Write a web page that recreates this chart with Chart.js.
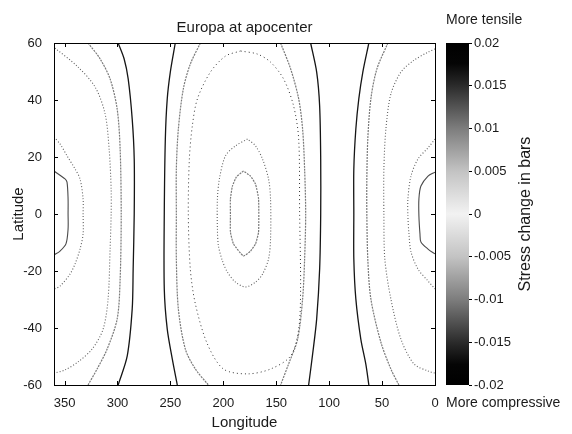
<!DOCTYPE html>
<html><head><meta charset="utf-8">
<script src="https://cdn.jsdelivr.net/npm/chart.js@4.4.0/dist/chart.umd.min.js"></script>
<style>
html,body{margin:0;padding:0;background:#fff;}
#wrap{position:relative;width:572px;height:434px;overflow:hidden;}
#main{position:absolute;left:0;top:0;}
#cbar{position:absolute;left:446px;top:0;}
</style></head><body>
<div id="wrap">
<canvas id="main" width="572" height="434"></canvas>
<canvas id="cbar" width="126" height="434"></canvas>
</div>
<script>
// ---------- data ----------
const lonTicks = [0, 50, 100, 150, 200, 250, 300, 350];
const latTicks = [-60, -40, -20, 0, 20, 40, 60];
const stressTicks = [-0.02, -0.015, -0.01, -0.005, 0, 0.005, 0.01, 0.015, 0.02];
const stressRange = [-0.02, 0.02];

// contour lines, [longitude, latitude]
const edgeInnerWest = [[360,15.1],[349.6,12.3],[347.7,11.2],[346.7,5.3],[346.7,0],[346.7,-5.3],[348.7,-10.5],[354.3,-13],[360,-14.4]];
const edgeInnerEast = [[0,14.7],[6.6,13.3],[13.3,9.8],[15.2,5.3],[15.2,-0.7],[14.2,-7],[13.3,-9.8],[6.6,-12.3],[0,-14]];
const edgeMidWest = [[360,27],[354.3,24.6],[347.7,20.4],[340.1,15.8],[335.4,12.3],[332.5,5.3],[332.5,0],[332.5,-7],[335.4,-12.3],[340.1,-17.5],[344.9,-21.1],[354.3,-25.3],[360,-26.3]];
const edgeMidEast = [[0,26.3],[6.6,23.2],[16.1,19.3],[22.7,13.3],[25.6,5.3],[25.6,-0.7],[24.6,-7],[22.7,-13.3],[16.1,-19.3],[6.6,-23.5],[0,-26.3]];
const edgeOuterWest = [[359.1,58.2],[338.2,51.9],[321.2,44.6],[311.7,35.1],[307.9,22.8],[306,8.8],[306,0],[307,-12.3],[308.9,-29.8],[313.6,-40.4],[324,-47.4],[337.3,-51.9],[349.6,-54.7],[359.1,-55.8]];
const edgeOuterEast = [[0,57.9],[6.6,56.8],[20.8,53.7],[32.2,49.8],[41.7,42.1],[46.4,29.8],[48.3,15.8],[48.3,0],[47.4,-15.8],[41.7,-29.8],[32.2,-43.9],[19.9,-52.6],[6.6,-55.1],[0,-55.8]];
const westA = [[327.8,60],[316.4,54.4],[307,47.4],[300.3,36.8],[297.5,22.8],[296.5,0],[297.5,-22.8],[300.3,-36.8],[309.8,-47.4],[319.3,-54.4],[327.8,-60]];
const westB = [[299.4,60],[293.7,54.4],[289.9,47.4],[286.1,33.3],[284.2,19.3],[284.2,0],[285.2,-19.3],[286.1,-33.3],[290.8,-49.8],[299.4,-60]];
const westC = [[245.4,60],[250.1,49.8],[253,40.4],[254.8,26.3],[255.8,0],[255.8,-26.3],[253,-40.4],[248.2,-50.9],[243.5,-60]];
const westD = [[221.7,60],[231.2,52.6],[237.8,43.9],[242.5,29.8],[244.4,15.8],[244.4,0],[244.4,-15.8],[242.5,-33.3],[235.9,-47.4],[226.4,-54.4],[214.1,-60]];
const centerOuter = [[183.8,57.2],[198,55.4],[212.2,49.8],[224.5,40.4],[229.3,30.9],[232.1,19.3],[233.1,0],[231.2,-19.3],[226.4,-31.6],[215.1,-45.6],[199.9,-54.4],[177.2,-56.1],[155.4,-54.4],[136.4,-49.8],[128.8,-40.4],[127,-26.3],[127.9,0],[128.8,26.3],[133.6,37.9],[143.1,47.4],[155.4,53.3],[167.7,56.1],[183.8,57.2]];
const centerMid = [[177.2,26.3],[188.5,23.9],[198,20.4],[203.7,12.3],[205.6,5.3],[205.6,-5.3],[204.6,-11.2],[200.8,-16.5],[196.1,-20.4],[188.5,-23.9],[179.1,-25.6],[169.6,-23.9],[163,-21.1],[157.3,-15.8],[155.4,-8.8],[155.4,5.3],[157.3,12.3],[163,19.3],[169.6,23.9],[177.2,26.3]];
const centerInner = [[181,15.1],[187.6,13],[191.4,9.8],[193.3,5.3],[193.3,-0.7],[193.3,-6.3],[190.4,-10.5],[181,-14.7],[174.3,-13],[169.6,-10.5],[166.7,-6.3],[166.7,5.3],[169.6,10.5],[174.3,13.3],[181,15.1]];
const eastD = [[145.9,60],[136.4,50.9],[128.8,40.4],[125.1,29.8],[123.2,15.8],[122.2,0],[123.2,-15.8],[125.1,-29.8],[129.8,-43.9],[138.3,-52.6],[145.9,-60]];
const eastC = [[117.5,60],[111.8,49.8],[109,37.9],[108,19.3],[108,0],[109,-19.3],[111.8,-36.8],[115.6,-49.1],[119.4,-60]];
const eastB = [[62.5,60],[68.2,49.8],[72,40.4],[74.8,29.8],[76.7,15.8],[76.7,0],[76.7,-15.8],[74.8,-29.8],[70.1,-43.9],[65.4,-52.6],[62.5,-60]];
const eastA = [[44.5,60],[54.9,50.9],[60.6,40.4],[63.5,26.3],[64.4,12.3],[64.4,0],[63.5,-15.8],[60.6,-29.8],[51.2,-44.9],[41.7,-54.4],[34.1,-60]];

// ---------- styles ----------
const STYLE = {
  dark:   {borderColor:'#151515', borderWidth:1.3, borderDash:[]},
  mid:    {borderColor:'#4a4a4a', borderWidth:1.1, borderDash:[]},
  gray:   {borderColor:'#7a7a7a', borderWidth:1.2, borderDash:[2,1]},
  dotted: {borderColor:'#5f5f5f', borderWidth:1.1, borderDash:[1,2]},
  sparse: {borderColor:'#333333', borderWidth:1.0, borderDash:[1,3]}
};
const lines = [
  [edgeInnerWest,'mid',0.3],[edgeInnerEast,'mid',0.3],
  [edgeMidWest,'dotted',0.3],[edgeMidEast,'dotted',0.3],
  [edgeOuterWest,'dotted',0.3],[edgeOuterEast,'dotted',0.3],
  [westA,'gray',0.3],[westB,'dark',0.3],[westC,'dark',0.3],[westD,'gray',0.3],
  [centerOuter,'sparse',0.3],[centerMid,'dotted',0.3],[centerInner,'gray',0.15],
  [eastD,'gray',0.3],[eastC,'dark',0.3],[eastB,'dark',0.3],[eastA,'gray',0.3]
];

Chart.defaults.font.family = "'Liberation Sans', Arial, sans-serif";
Chart.defaults.color = '#1a1a1a';

const boxAndTicks = {
  id:'boxAndTicks',
  afterDraw(chart){
    const {ctx, chartArea:a, scales:{x, y}} = chart;
    ctx.save();
    ctx.strokeStyle = '#000'; ctx.lineWidth = 1;
    ctx.strokeRect(Math.round(a.left)+0.5, Math.round(a.top)+0.5, Math.round(a.right-a.left), Math.round(a.bottom-a.top));
    ctx.beginPath();
    const L = 4;
    x.ticks.forEach(t => {
      const px = Math.round(x.getPixelForValue(t.value))+0.5;
      ctx.moveTo(px, a.bottom); ctx.lineTo(px, a.bottom-L);
      ctx.moveTo(px, a.top); ctx.lineTo(px, a.top+L);
    });
    y.ticks.forEach(t => {
      const py = Math.round(y.getPixelForValue(t.value))+0.5;
      ctx.moveTo(a.left, py); ctx.lineTo(a.left+L, py);
      ctx.moveTo(a.right, py); ctx.lineTo(a.right-L, py);
    });
    ctx.stroke();
    ctx.restore();
  }
};

new Chart(document.getElementById('main'), {
  type:'scatter',
  data:{datasets: lines.map(([pts, st, tn]) => Object.assign({
    data: pts.map(([lon, lat]) => ({x:lon, y:lat})),
    showLine:true, pointRadius:0, pointHoverRadius:0, fill:false, tension:tn
  }, STYLE[st]))},
  options:{
    responsive:false, animation:false, devicePixelRatio:1,
    layout:{padding:{top:0,right:137,bottom:0,left:0}, autoPadding:false},
    events:[],
    plugins:{
      legend:{display:false}, tooltip:{enabled:false},
      title:{display:true, fullSize:false, text:'Europa at apocenter', color:'#1a1a1a',
        font:{size:15, weight:'normal'}, padding:{top:19,bottom:6}}
    },
    scales:{
      x:{type:'linear', min:0, max:360, reverse:true, position:'bottom',
        afterBuildTicks: s => { s.ticks = lonTicks.map(v => ({value:v})); },
        ticks:{padding:3, font:{size:13}, maxRotation:0, autoSkip:false},
        grid:{display:false}, border:{display:true, color:'#000'},
        title:{display:true, text:'Longitude', font:{size:15}, padding:{top:0,bottom:2}},
        afterFit: s => { s.height = 49; }},
      y:{type:'linear', min:-60, max:60, position:'left',
        afterBuildTicks: s => { s.ticks = latTicks.map(v => ({value:v})); },
        ticks:{padding:4, font:{size:13}, autoSkip:false},
        grid:{display:false}, border:{display:true, color:'#000'},
        title:{display:true, text:'Latitude', font:{size:15}, padding:{top:10,bottom:0}},
        afterFit: s => { s.width = 54; }}
    }
  },
  plugins:[boxAndTicks]
});

// ---------- colour bar ----------
const CBAR_GRAYS = [[0,0],[0.06,5],[0.12,40],[0.25,125],[0.375,195],[0.5,242],[0.625,195],[0.75,125],[0.88,40],[0.94,5],[1,0]];
const sideLabel = {
  id:'sideLabel',
  afterDraw(chart){
    const ctx = chart.ctx;
    ctx.save();
    ctx.translate(80, 214);
    ctx.rotate(-Math.PI/2);
    ctx.font = "16px 'Liberation Sans', Arial, sans-serif";
    ctx.fillStyle = '#1a1a1a';
    ctx.textAlign = 'center'; ctx.textBaseline = 'middle';
    ctx.fillText('Stress change in bars', 0, 0);
    ctx.restore();
  }
};
new Chart(document.getElementById('cbar'), {
  type:'bar',
  data:{labels:[''], datasets:[{
    data:[stressRange],
    borderWidth:0, barPercentage:1, categoryPercentage:1,
    backgroundColor: c => {
      const ch = c.chart, ys = ch.scales.y;
      if (!ch.chartArea || !ys) return '#999';
      const g = ch.ctx.createLinearGradient(0, ys.getPixelForValue(stressRange[1]), 0, ys.getPixelForValue(stressRange[0]));
      CBAR_GRAYS.forEach(([o, v]) => g.addColorStop(o, `rgb(${v},${v},${v})`));
      return g;
    }
  }]},
  options:{
    responsive:false, animation:false, devicePixelRatio:1, events:[],
    layout:{padding:0, autoPadding:false},
    plugins:{
      legend:{display:false}, tooltip:{enabled:false},
      title:{display:true, text:'More tensile', align:'start', color:'#1a1a1a',
        font:{size:14, weight:'normal'}, padding:{top:12,bottom:14.2}},
      subtitle:{display:true, position:'bottom', text:'More compressive', align:'start', color:'#1a1a1a',
        font:{size:14}, padding:{top:10,bottom:22.2}}
    },
    scales:{
      x:{display:false},
      y:{position:'right', min:stressRange[0], max:stressRange[1],
        afterBuildTicks: s => { s.ticks = stressTicks.map(v => ({value:v})); },
        ticks:{padding:2, font:{size:13}, callback: v => String(+(+v).toFixed(3))},
        grid:{display:true, drawOnChartArea:false, drawTicks:true, tickLength:3, color:'#000'},
        border:{display:false},
        afterFit: s => { s.width = 103; }}
    }
  },
  plugins:[sideLabel]
});
</script>
</body></html>
